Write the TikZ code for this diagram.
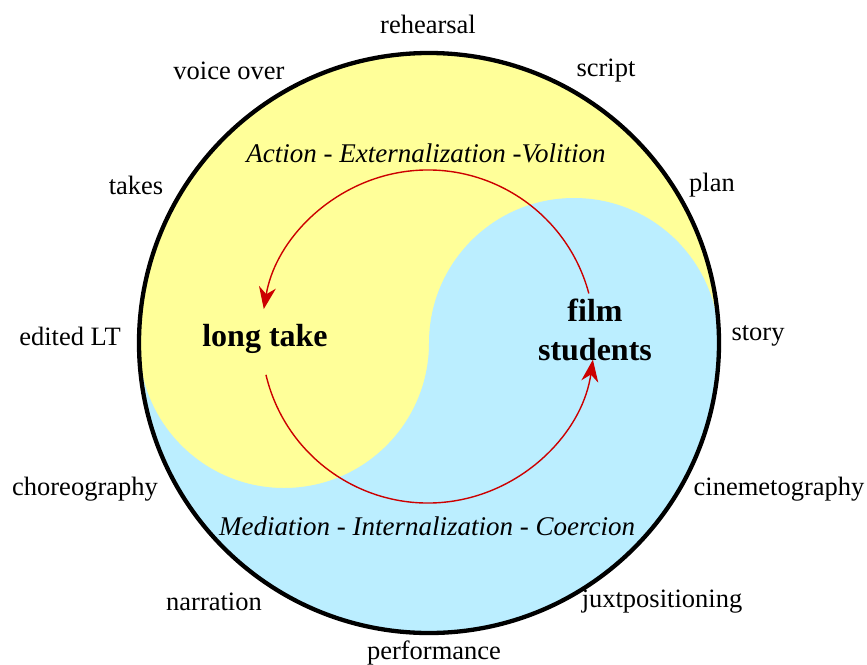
\documentclass[tikz,border=0pt]{standalone}
\usepackage{fontspec}
\setmainfont{Liberation Serif}
\usetikzlibrary{arrows.meta}
\definecolor{yel}{RGB}{255,255,153}
\definecolor{blu}{RGB}{187,238,255}
\definecolor{arrred}{RGB}{204,0,0}
\begin{document}
\begin{tikzpicture}[x=1pt,y=1pt,
  lbl/.style={inner sep=0pt,font=\fontsize{26.5}{30}\selectfont},
  axis/.style={inner sep=0pt,font=\fontsize{27}{31}\selectfont\itshape},
  pole/.style={inner sep=0pt,align=center,font=\fontsize{32}{39}\selectfont\bfseries},
  cyc/.style={draw=arrred,line width=1.4pt,-{Stealth[length=22pt,width=17pt,inset=7pt]}}]
\useasboundingbox (0,0) rectangle (867,-664);
\coordinate (c0) at (429,-343);
\coordinate (cr) at (428,-336.5);
% yin-yang
\fill[yel] (c0) circle[radius=290];
\fill[blu] (139,-343) arc[start angle=180,end angle=360,radius=290]
  arc[start angle=0,end angle=180,radius=145]
  arc[start angle=0,end angle=-180,radius=145] -- cycle;
\draw[line width=4.3pt] (c0) circle[radius=290];
% labels around
\node[lbl] (reh) at (428,-24) {rehearsal};
\node[lbl] (vo) at (229,-71) {voice over};
\node[lbl] (scr) at (606,-71) {script};
\node[lbl] (tak) at (136,-185) {takes};
\node[lbl] (pla) at (712,-185) {plan};
\node[lbl] (elt) at (70,-336) {edited LT};
\node[lbl] (sto) at (758,-336) {story};
\node[lbl] (cho) at (85,-489) {choreography};
\node[lbl] (cin) at (779,-489) {cinemetography};
\node[lbl] (nar) at (214,-602) {narration};
\node[lbl] (jux) at (662,-602) {juxtpositioning};
\node[lbl] (per) at (434,-653) {performance};
% axis texts
\node[axis] (aev) at (426,-153) {Action - Externalization -Volition};
\node[axis] (mic) at (427,-526) {Mediation - Internalization - Coercion};
% poles
\node[pole] (lt) at (265,-339) {long take};
\node[pole] (fs) at (595,-330) {film\\students};
% cycle arrows
\draw[cyc] ([shift={(15:166.5)}]cr) arc[start angle=15,end angle=170.5,radius=166.5];
\draw[cyc] ([shift={(193.3:166.5)}]cr) arc[start angle=193.3,end angle=352,radius=166.5];
\end{tikzpicture}
\end{document}
